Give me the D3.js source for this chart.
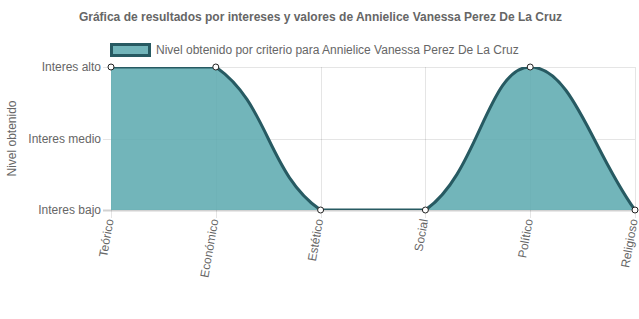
<!DOCTYPE html>
<html>
<head>
<meta charset="utf-8">
<script src="https://cdn.jsdelivr.net/npm/d3@7"></script>
<style>
  html, body { margin: 0; padding: 0; background: #fff; }
  svg { display: block; font-family: "Liberation Sans", Arial, Helvetica, sans-serif; }
</style>
</head>
<body>
<svg id="chart" width="639" height="319"></svg>
<script>
const chartTitle = "Gráfica de resultados por intereses y valores de Annielice Vanessa Perez De La Cruz";
const seriesLabel = "Nivel obtenido por criterio para Annielice Vanessa Perez De La Cruz";
const yAxisTitle = "Nivel obtenido";
const categories = ["Teórico", "Económico", "Estético", "Social", "Político", "Religioso"];
const levels = ["Interes bajo", "Interes medio", "Interes alto"];
const values = ["Interes alto", "Interes alto", "Interes bajo", "Interes bajo", "Interes alto", "Interes bajo"];

const W = 639, H = 319;
const area = { left: 111, right: 635, top: 67, bottom: 210 };
const fillColor = "rgba(95,171,176,0.88)";
const lineColor = "#275a62";
const textColor = "#666";

const svg = d3.select("#chart");
const x = d3.scalePoint().domain(categories).range([area.left, area.right]);
const y = d3.scalePoint().domain(levels).range([area.bottom, area.top]);

// Title
svg.append("text").attr("x", W / 2 + 1).attr("y", 21).attr("text-anchor", "middle")
  .attr("font-size", 12).attr("font-weight", "bold").attr("fill", textColor).text(chartTitle);

// Legend
svg.append("rect").attr("x", 111.5).attr("y", 44.5).attr("width", 38).attr("height", 11)
  .attr("fill", fillColor).attr("stroke", lineColor).attr("stroke-width", 3);
svg.append("text").attr("x", 156).attr("y", 54).attr("font-size", 12).attr("fill", textColor).text(seriesLabel);

// Grid
const grid = svg.append("g");
levels.forEach(l => {
  grid.append("line").attr("x1", area.left - 8).attr("x2", area.right)
    .attr("y1", Math.round(y(l)) + 0.5).attr("y2", Math.round(y(l)) + 0.5)
    .attr("stroke", l === levels[0] ? "rgba(0,0,0,0.18)" : "rgba(0,0,0,0.1)").attr("stroke-width", l === levels[0] ? 2 : 1);
});
categories.forEach(c => {
  grid.append("line").attr("x1", Math.round(x(c)) + 0.5).attr("x2", Math.round(x(c)) + 0.5)
    .attr("y1", area.top).attr("y2", area.bottom + 8)
    .attr("stroke", "rgba(0,0,0,0.1)").attr("stroke-width", 1);
});

// Y labels
levels.forEach(l => {
  svg.append("text").attr("x", area.left - 10).attr("y", y(l)).attr("dy", "0.35em")
    .attr("text-anchor", "end").attr("font-size", 12).attr("fill", textColor).text(l);
});
svg.append("text").attr("transform", `translate(16,${(area.top + area.bottom) / 2}) rotate(-90)`)
  .attr("text-anchor", "middle").attr("font-size", 12).attr("fill", textColor).text(yAxisTitle);

// X labels
categories.forEach(c => {
  svg.append("text").attr("transform", `translate(${x(c) - 1.5},${area.bottom + 9}) rotate(-80)`)
    .attr("text-anchor", "end").attr("dy", "0.35em").attr("font-size", 12)
    .attr("fill", textColor).text(c);
});

// Points
const pts = categories.map((c, i) => ({ x: x(c), y: y(values[i]) }));

// Chart.js style spline control points (tension 0.4, capped to chart area)
const t = 0.4;
const clampX = v => Math.max(area.left, Math.min(area.right, v));
const clampY = v => Math.max(area.top, Math.min(area.bottom, v));
const ctrl = pts.map((p, i) => {
  const p0 = pts[i - 1] || p, p2 = pts[i + 1] || p;
  const d01 = Math.hypot(p.x - p0.x, p.y - p0.y);
  const d12 = Math.hypot(p2.x - p.x, p2.y - p.y);
  let s01 = d01 / (d01 + d12), s12 = d12 / (d01 + d12);
  if (isNaN(s01)) s01 = 0; if (isNaN(s12)) s12 = 0;
  const fa = t * s01, fb = t * s12;
  return {
    px: clampX(p.x - fa * (p2.x - p0.x)), py: clampY(p.y - fa * (p2.y - p0.y)),
    nx: clampX(p.x + fb * (p2.x - p0.x)), ny: clampY(p.y + fb * (p2.y - p0.y))
  };
});

function buildLine(path) {
  path.moveTo(pts[0].x, pts[0].y);
  for (let i = 1; i < pts.length; i++) {
    path.bezierCurveTo(ctrl[i - 1].nx, ctrl[i - 1].ny, ctrl[i].px, ctrl[i].py, pts[i].x, pts[i].y);
  }
  return path;
}

svg.append("defs").append("clipPath").attr("id", "clip").append("rect")
  .attr("x", area.left).attr("y", area.top).attr("width", area.right - area.left).attr("height", area.bottom - area.top);

const g = svg.append("g").attr("clip-path", "url(#clip)");
const fillPath = buildLine(d3.path());
fillPath.lineTo(pts[pts.length - 1].x, area.bottom);
fillPath.lineTo(pts[0].x, area.bottom);
fillPath.closePath();
g.append("path").attr("d", fillPath.toString()).attr("fill", fillColor);
g.append("path").attr("d", buildLine(d3.path()).toString()).attr("fill", "none")
  .attr("stroke", lineColor).attr("stroke-width", 3);

svg.append("g").selectAll("circle").data(pts).join("circle")
  .attr("cx", d => d.x).attr("cy", d => d.y).attr("r", 3)
  .attr("fill", "#fff").attr("stroke", "#222").attr("stroke-width", 1);
</script>
</body>
</html>
